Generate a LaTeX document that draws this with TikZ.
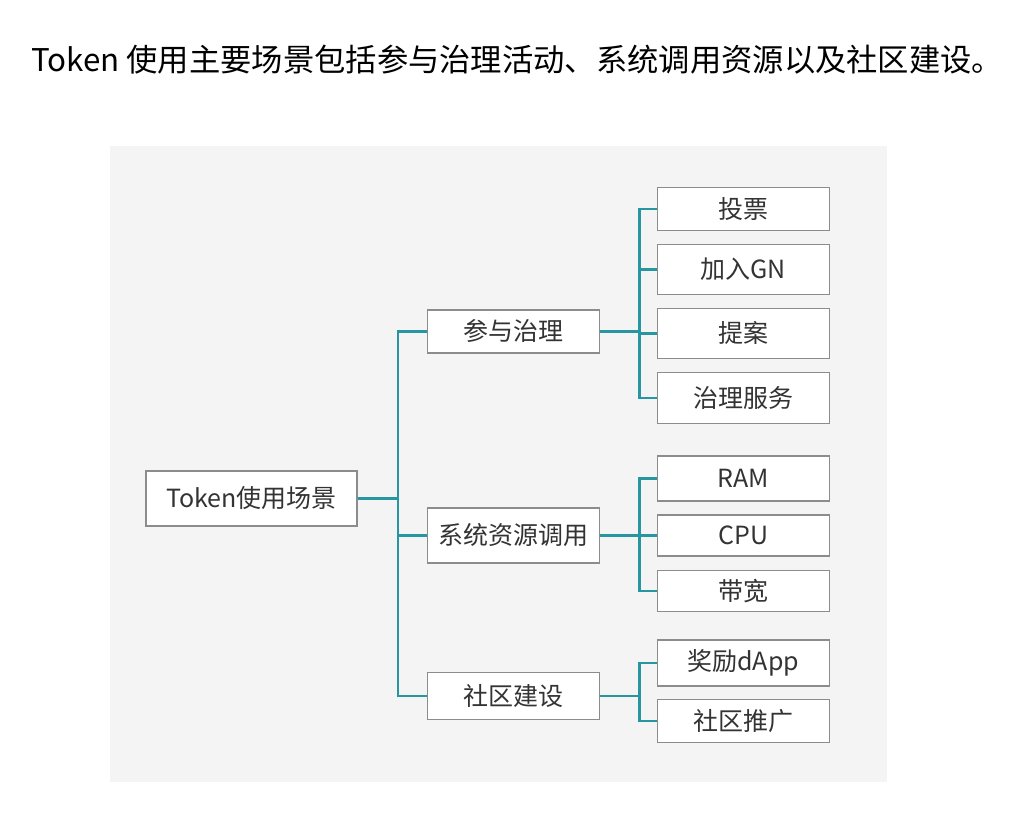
\documentclass[tikz,border=0pt]{standalone}
\usepackage{fontspec}
\setmainfont{Noto Sans CJK SC}
\definecolor{teal2}{HTML}{2896A0}
\definecolor{boxline}{HTML}{8C8C8C}
\definecolor{txt}{HTML}{333333}
\definecolor{bg}{HTML}{F4F4F4}
\begin{document}
\begin{tikzpicture}[x=1pt,y=-1pt,
  box/.style={draw=boxline,line width=1.4pt,fill=white,text=txt,inner sep=0pt,
    font=\fontsize{25}{28}\selectfont},
  conn/.style={draw=teal2,line width=2.6pt}]
\useasboundingbox (0,0) rectangle (1019,827);
\fill[white] (0,0) rectangle (1019,827);
\fill[bg] (110,146) rectangle (887,782);
\node[anchor=base west,inner sep=0pt,text=black,font=\fontsize{31.3}{35}\selectfont] (title) at (31,71) {Token 使用主要场景包括参与治理活动、系统调用资源以及社区建设。};
% root
\node[box,minimum width=211pt,minimum height=55pt] (root) at (251.5,498.5) {Token使用场景};
% middle
\node[box,minimum width=172pt,minimum height=43pt] (m1) at (513.3,331.3) {参与治理};
\node[box,minimum width=172pt,minimum height=55pt] (m2) at (513.3,535.3) {系统资源调用};
\node[box,minimum width=172pt,minimum height=47pt] (m3) at (513.3,696) {社区建设};
% leaves
\node[box,minimum width=172pt,minimum height=43pt] (l1) at (743.3,209) {投票};
\node[box,minimum width=172pt,minimum height=50pt] (l2) at (743.3,269.3) {加入GN};
\node[box,minimum width=172pt,minimum height=50pt] (l3) at (743.3,333.3) {提案};
\node[box,minimum width=172pt,minimum height=51pt] (l4) at (743.3,398) {治理服务};
\node[box,minimum width=172pt,minimum height=45pt] (l5) at (743.3,478.3) {RAM};
\node[box,minimum width=172pt,minimum height=41pt] (l6) at (743.3,535.5) {CPU};
\node[box,minimum width=172pt,minimum height=41pt] (l7) at (743.3,591) {带宽};
\node[box,minimum width=172pt,minimum height=46pt] (l8) at (743.3,662.8) {奖励dApp};
\node[box,minimum width=172pt,minimum height=43pt] (l9) at (743.3,721) {社区推广};
% connectors
\foreach \m in {m1,m2,m3}{
  \draw[conn] (root.east) -- (398,498.5) |- (\m.west);
}
\foreach \l in {l1,l2,l3,l4}{
  \draw[conn] (m1.east) -- (639.5,331.3) |- (\l.west);
}
\foreach \l in {l5,l6,l7}{
  \draw[conn] (m2.east) -- (639.5,535.3) |- (\l.west);
}
\foreach \l in {l8,l9}{
  \draw[conn] (m3.east) -- (639.5,696) |- (\l.west);
}
\end{tikzpicture}
\end{document}
